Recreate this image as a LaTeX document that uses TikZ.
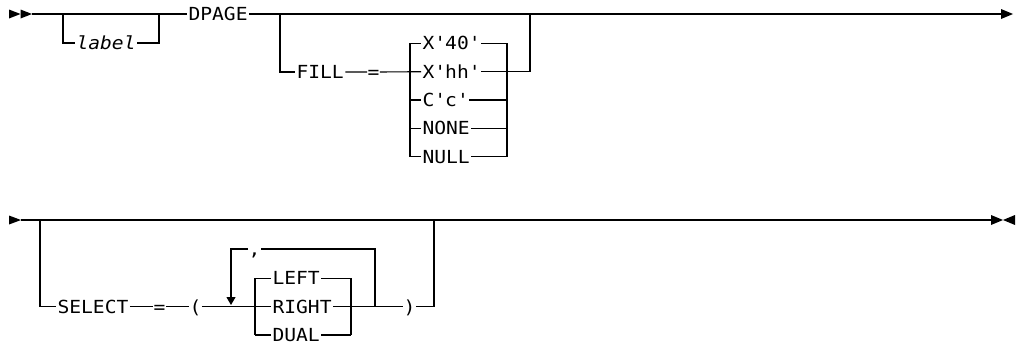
\documentclass[tikz,border=0pt]{standalone}
\usepackage{fontspec}
\newfontfamily\rrfont[FakeStretch=1.09]{DejaVu Sans Mono}
\newcommand{\rrq}{\textquotesingle}
\usetikzlibrary{arrows.meta}

\begin{document}
\begin{tikzpicture}[x=1pt,y=-1pt,line width=1.1pt,>={Triangle[length=8pt,width=9pt]},
  kw/.style={anchor=west,inner sep=1pt,text height=13pt,text depth=0pt,font=\rrfont\fontsize{18}{18}\selectfont},
  var/.style={kw,font=\rrfont\itshape\fontsize{18}{18}\selectfont},
  sym/.style={kw,inner sep=0pt}]
  \useasboundingbox (0,0) rectangle (1018,348);
  % first line
  \coordinate (s1) at (9,14);
  \coordinate (s1e) at (32,14);
  \coordinate (e1) at (1001,14);
  \fill (s1) ++(0,-4.5) -- ++(11.5,4.5) -- ++(-11.5,4.5) -- cycle;
  \fill (s1) ++(11.5,-4.5) -- ++(11.5,4.5) -- ++(-11.5,4.5) -- cycle;
  \fill (e1) ++(0,-5) -- ++(12,5) -- ++(-12,5) -- cycle;
  \node[kw] (dpage) at (187,14) {DPAGE};
  \coordinate (a1) at (63,14);
  \coordinate (a2) at (159,14);
  \node[var] (label) at (75,43) {label};
  \coordinate (b1) at (280,14);
  \coordinate (b2) at (530,14);
  \node[kw] (fill) at (295,72) {FILL};
  \node[sym] (eq1) at (367,72) {=};
  \coordinate (fl) at (410,0);
  \coordinate (fr) at (507,0);
  \node[kw] (x40) at (421,43.3) {X\rrq40\rrq};
  \node[kw] (xhh) at (421,71.7) {X\rrq hh\rrq};
  \node[kw] (cc) at (421,100) {C\rrq c\rrq};
  \node[kw] (none) at (421,128.3) {NONE};
  \node[kw] (null) at (421,156.7) {NULL};
  \draw (s1e) -- (dpage.west) (dpage.east) -- (e1);
  \draw (a1) |- (label.west);
  \draw (label.east) -| (a2);
  \draw (b1) |- (fill.west);
  \draw (fill.east) -- (eq1.west) (eq1.east) -- (xhh.west);
  \foreach \c in {x40,xhh,cc,none,null}
    \draw (\c.west -| fl) -- (\c.west) (\c.east) -- (\c.east -| fr);
  \draw (x40.west -| fl) -- (null.west -| fl) (x40.east -| fr) -- (null.east -| fr);
  \draw (xhh.east -| fr) -| (b2);
  % second line
  \coordinate (s2) at (9,220);
  \coordinate (s2e) at (21,220);
  \coordinate (e2) at (991,220);
  \fill (s2) ++(0,-4.5) -- ++(12,4.5) -- ++(-12,4.5) -- cycle;
  \fill (e2) ++(0,-5) -- ++(12,5) -- ++(-12,5) -- cycle;
  \fill (e2) ++(24,-5) -- ++(-12,5) -- ++(12,5) -- cycle;
  \coordinate (c1) at (40,220);
  \coordinate (c2) at (434,220);
  \node[kw] (select) at (56,306.7) {SELECT};
  \node[sym] (eq2) at (153,306.7) {=};
  \node[sym] (lpar) at (189,306.7) {(};
  \node[sym] (rpar) at (403,306.7) {)};
  \coordinate (gl) at (255,0);
  \coordinate (gr) at (351,0);
  \node[kw] (left) at (271,278.3) {LEFT};
  \node[kw] (right) at (271,306.7) {RIGHT};
  \node[kw] (dual) at (271,335) {DUAL};
  \coordinate (rl) at (231,305);
  \coordinate (rr) at (375,306.7);
  \node[sym] (comma) at (248,249) {,};
  \draw (s2e) -- (e2);
  \draw (c1) |- (select.west);
  \draw (select.east) -- (eq2.west) (eq2.east) -- (lpar.west) (lpar.east) -- (right.west);
  \foreach \c in {left,right,dual}
    \draw (\c.west -| gl) -- (\c.west) (\c.east) -- (\c.east -| gr);
  \draw (left.west -| gl) -- (dual.west -| gl) (left.east -| gr) -- (dual.east -| gr);
  \draw (right.east -| gr) -- (rpar.west);
  \draw (rpar.east) -| (c2);
  \draw (rr) |- (comma.east);
  \draw[->] (comma.west) -| (rl);
\end{tikzpicture}
\end{document}
